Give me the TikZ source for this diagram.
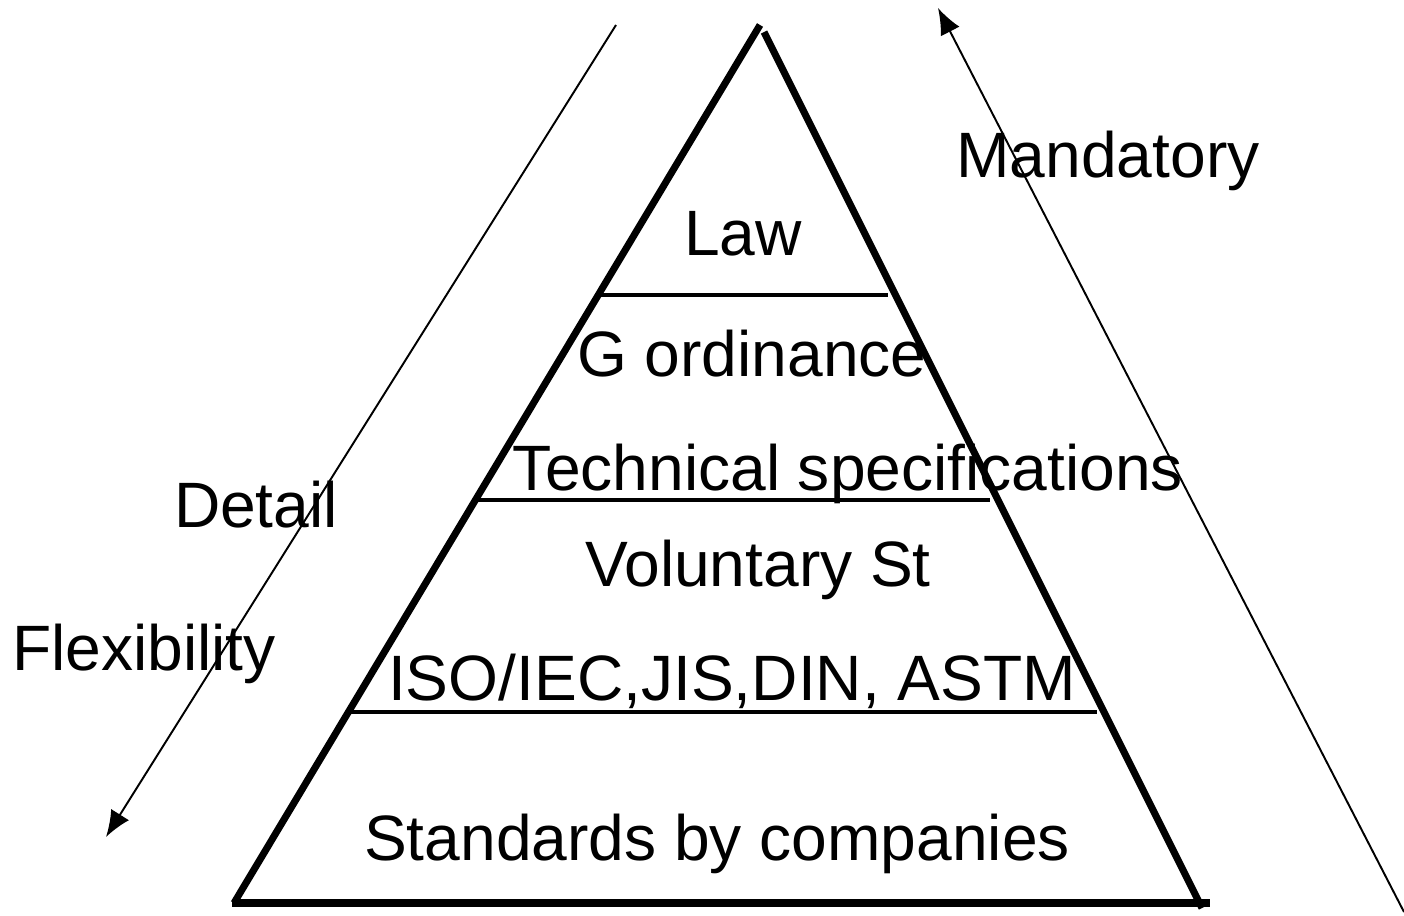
\documentclass[tikz,border=0pt]{standalone}
\usepackage{fontspec}
\setmainfont{Liberation Sans}
\usetikzlibrary{arrows.meta}
\tikzset{>={Latex[length=15pt,width=12pt]}}
\tikzstyle{layer}=[anchor=base,inner sep=0pt,font=\fontsize{36.5}{44}\selectfont]
\tikzstyle{side}=[line width=4pt]
\tikzstyle{border}=[line width=2pt]
\tikzstyle{trend}=[line width=1.1pt]

\begin{document}
\begin{tikzpicture}[x=0.02cm,y=-0.02cm]
\useasboundingbox (0,0) rectangle (1404,916);

% pyramid corners
\coordinate (topL) at (760,25);
\coordinate (topR) at (764,32);
\coordinate (botL) at (234,903);
\coordinate (botR) at (1202,908);
\coordinate (baseL) at (232,903);
\coordinate (baseR) at (1210,903);

\draw[side] (botL) -- (topL);
\draw[side] (topR) -- (botR);
\draw[side] (baseL) -- (baseR);

% layer borders
\coordinate (s1L) at (600,295);
\coordinate (s1R) at (888,295);
\coordinate (s2L) at (477,500);
\coordinate (s2R) at (990,500);
\coordinate (s3L) at (350,712);
\coordinate (s3R) at (1097,712);
\draw[border] (s1L) -- (s1R);
\draw[border] (s2L) -- (s2R);
\draw[border] (s3L) -- (s3R);

% side arrows
\coordinate (detTop) at (616,25);
\coordinate (detBot) at (106,837);
\coordinate (manBot) at (1404,912);
\coordinate (manTop) at (938,8);
\draw[trend,->] (detTop) -- (detBot);
\draw[trend,->] (manBot) -- (manTop);

\node[layer] (law) at (743,255) {Law};
\node[layer] (gord) at (752,376) {G ordinance};
\node[layer] (tech) at (848,490) {Technical specifications};
\node[layer] (vol) at (758,586) {Voluntary St};
\node[layer] (iso) at (732,700) {ISO/IEC,JIS,DIN, ASTM};
\node[layer] (comp) at (717,860) {Standards by companies};

\node[layer] (mand) at (1108,177) {Mandatory};
\node[layer] (det) at (256,527) {Detail};
\node[layer] (flex) at (144,670) {Flexibility};

\end{tikzpicture}
\end{document}
